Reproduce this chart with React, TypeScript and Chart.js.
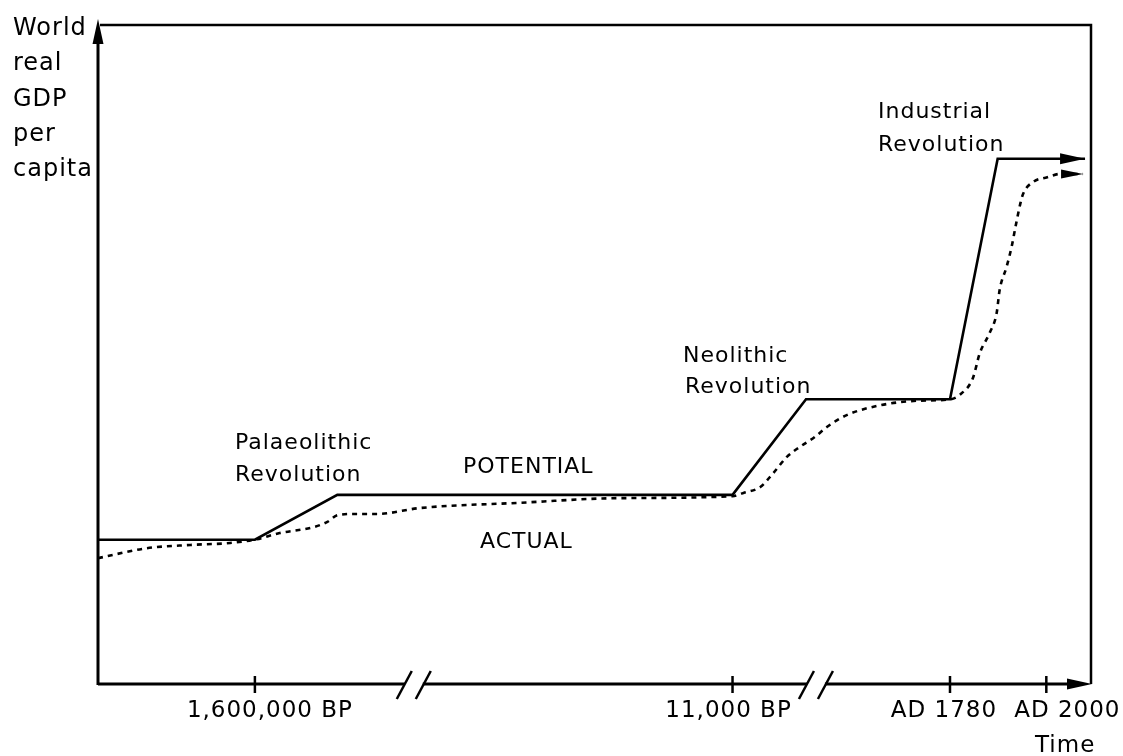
import { useEffect, useRef } from "react";
import { Chart, registerables } from "chart.js";

Chart.register(...registerables);

// ---- Data (schematic units: x 0..100 across time axis, y 0..100 GDP per capita) ----
const potentialX = [0, 15.8, 24.1, 63.9, 71.3, 85.8, 90.6, 99.4];
const potentialY = [21.9, 21.9, 28.7, 28.7, 43.2, 43.2, 79.7, 79.7];

const actualX = [
  0, 4.9, 9.3, 13.3, 15.8, 18.3, 21.7, 23.1, 24.1, 25.7, 28.1, 32.4, 42.5, 52.3, 63.9,
  65.0, 66.7, 68.0, 69.4, 70.7, 72.2, 73.4, 75.4, 78.8, 82.8, 85.8, 86.8, 88.1, 88.8,
  89.8, 90.5, 90.8, 91.5, 92.0, 92.4, 92.9, 93.2, 94.2, 95.6, 96.9, 99.2,
];
const actualY = [
  19.1, 20.6, 21.1, 21.4, 21.9, 22.9, 23.8, 24.6, 25.6, 25.8, 25.8, 26.7, 27.5, 28.2, 28.5,
  29.0, 29.9, 32.0, 34.5, 36.0, 37.5, 39.0, 40.8, 42.3, 43.0, 43.2, 43.9, 46.4, 50.2,
  53.3, 56.3, 59.8, 63.3, 66.3, 69.4, 73.0, 74.5, 76.2, 76.9, 77.4, 77.4,
];

const tickValues = [15.8, 63.9, 85.8, 95.5];
const tickLabels = ["1,600,000 BP", "11,000 BP", "AD 1780", "AD 2000"];
const breakValues = [31.8, 72.3];

const yTitleLines = ["World", "real", "GDP", "per", "capita"];
const xTitle = "Time";
const annotationTexts = [
  "Palaeolithic",
  "Revolution",
  "POTENTIAL",
  "ACTUAL",
  "Neolithic",
  "Revolution",
  "Industrial",
  "Revolution",
];

// ---- Layout / style (pixels) ----
const W = 1123;
const H = 756;
const PAD = { left: 98, right: 32, top: 25, bottom: 72 };
const FONT_FAMILY = '"DejaVu Sans", Verdana, sans-serif';
const annotationPos: [number, number][] = [
  [235, 449],
  [235, 481],
  [463, 473],
  [480, 548],
  [683, 362],
  [685, 393],
  [878, 118],
  [878, 151],
];
const tickLabelShift = [15, -4, -6, 21];
const tickLabelBaseline = 717;
const yTitlePos = { x: 13, baseline: 35, pitch: 35.3 };
const xTitlePos = { x: 1035, baseline: 752 };

function arrowHead(
  ctx: CanvasRenderingContext2D,
  tipX: number,
  tipY: number,
  angle: number,
  len: number,
  half: number
) {
  const cos = Math.cos(angle);
  const sin = Math.sin(angle);
  const bx = tipX - cos * len;
  const by = tipY - sin * len;
  ctx.beginPath();
  ctx.moveTo(tipX, tipY);
  ctx.lineTo(bx - sin * half, by + cos * half);
  ctx.lineTo(bx + sin * half, by - cos * half);
  ctx.closePath();
  ctx.fill();
}

const schematicPlugin = {
  id: "schematic",
  afterDatasetsDraw(chart: any) {
    const ctx: CanvasRenderingContext2D = chart.ctx;
    ctx.save();
    ctx.fillStyle = "#000";
    // arrow heads at the ends of both curves
    [0, 1].forEach((di) => {
      const meta = chart.getDatasetMeta(di);
      const pts = meta.data;
      const last = pts[pts.length - 1];
      const prev = pts[pts.length - 2];
      const ang = Math.atan2(last.y - prev.y, last.x - prev.x);
      if (di === 0) arrowHead(ctx, last.x, last.y, ang, 25, 5.5);
      else arrowHead(ctx, last.x, last.y, ang, 22, 4.5);
    });
    ctx.restore();
  },
  afterDraw(chart: any) {
    const ctx: CanvasRenderingContext2D = chart.ctx;
    const a = chart.chartArea;
    const xs = chart.scales.x;
    ctx.save();
    ctx.strokeStyle = "#000";
    ctx.fillStyle = "#000";
    ctx.lineCap = "butt";

    // frame (top and right)
    ctx.lineWidth = 2.5;
    ctx.beginPath();
    ctx.moveTo(a.left + 2, a.top);
    ctx.lineTo(a.right, a.top);
    ctx.lineTo(a.right, a.bottom);
    ctx.stroke();

    // y axis with arrow
    ctx.lineWidth = 3;
    ctx.beginPath();
    ctx.moveTo(a.left, a.bottom + 1);
    ctx.lineTo(a.left, a.top + 10);
    ctx.stroke();
    arrowHead(ctx, a.left, a.top - 6, -Math.PI / 2, 25, 5.5);

    // x axis with arrow
    ctx.beginPath();
    ctx.moveTo(a.left, a.bottom);
    ctx.lineTo(a.right - 10, a.bottom);
    ctx.stroke();
    arrowHead(ctx, a.right + 1, a.bottom, 0, 25, 5.5);

    // axis breaks
    breakValues.forEach((v) => {
      const c = xs.getPixelForValue(v);
      ctx.fillStyle = "#fff";
      ctx.fillRect(c - 9, a.bottom - 3, 18, 6);
      ctx.fillStyle = "#000";
      ctx.lineWidth = 2.5;
      [-9.5, 9.5].forEach((off) => {
        ctx.beginPath();
        ctx.moveTo(c + off - 7.5, a.bottom + 15);
        ctx.lineTo(c + off + 7.5, a.bottom - 13);
        ctx.stroke();
      });
    });

    // ticks and tick labels
    ctx.lineWidth = 2.5;
    ctx.font = `23px ${FONT_FAMILY}`;
    (ctx as any).letterSpacing = "1px";
    ctx.textAlign = "center";
    ctx.textBaseline = "alphabetic";
    tickValues.forEach((v, i) => {
      const px = xs.getPixelForValue(v);
      ctx.beginPath();
      ctx.moveTo(px, a.bottom - 8);
      ctx.lineTo(px, a.bottom + 9);
      ctx.stroke();
      ctx.fillText(tickLabels[i], px + tickLabelShift[i], tickLabelBaseline);
    });

    // axis titles
    ctx.textAlign = "left";
    ctx.fillText(xTitle, xTitlePos.x, xTitlePos.baseline);
    ctx.font = `24px ${FONT_FAMILY}`;
    yTitleLines.forEach((t, i) => {
      ctx.fillText(t, yTitlePos.x, yTitlePos.baseline + i * yTitlePos.pitch);
    });

    // annotations
    ctx.font = `22px ${FONT_FAMILY}`;
    annotationTexts.forEach((t, i) => {
      const [x, y] = annotationPos[i];
      ctx.fillText(t, x, y);
    });
    ctx.restore();
  },
};

export default function App() {
  const ref = useRef<HTMLCanvasElement | null>(null);

  useEffect(() => {
    document.body.style.margin = "0";
    document.body.style.overflow = "hidden";
    const canvas = ref.current;
    if (!canvas) return;
    const chart = new Chart(canvas, {
      type: "line",
      data: {
        datasets: [
          {
            label: "POTENTIAL",
            data: potentialX.map((x, i) => ({ x, y: potentialY[i] })),
            borderColor: "#000",
            borderWidth: 2.6,
            pointRadius: 0,
            tension: 0,
            borderJoinStyle: "miter",
            borderCapStyle: "butt",
            fill: false,
          },
          {
            label: "ACTUAL",
            data: actualX.map((x, i) => ({ x, y: actualY[i] })),
            borderColor: "#000",
            borderWidth: 2.6,
            borderDash: [5, 5],
            pointRadius: 0,
            cubicInterpolationMode: "monotone",
            fill: false,
          },
        ],
      },
      options: {
        responsive: false,
        animation: false,
        devicePixelRatio: 1,
        layout: { padding: PAD },
        plugins: {
          legend: { display: false },
          tooltip: { enabled: false },
        },
        scales: {
          x: { type: "linear", min: 0, max: 100, display: false },
          y: { type: "linear", min: 0, max: 100, display: false },
        },
      },
      plugins: [schematicPlugin],
    } as any);
    return () => chart.destroy();
  }, []);

  return (
    <div style={{ width: W, height: H, background: "#fff" }}>
      <canvas ref={ref} width={W} height={H} style={{ display: "block" }} />
    </div>
  );
}
